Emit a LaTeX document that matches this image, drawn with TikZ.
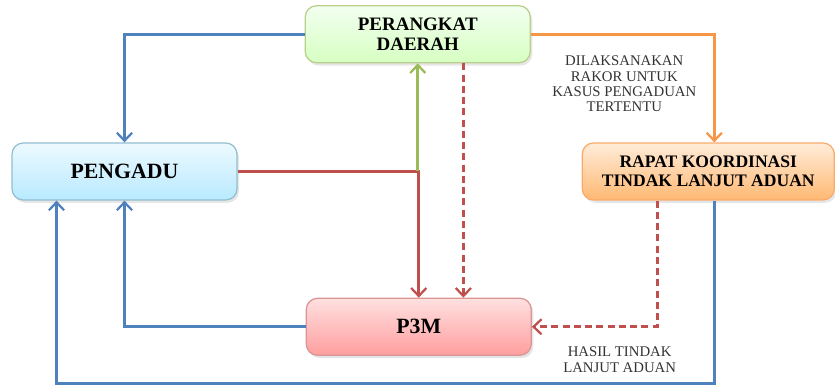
\documentclass[tikz,border=0pt]{standalone}
\usepackage{fontspec}
\setmainfont{Liberation Serif}
\usetikzlibrary{arrows.meta,positioning,shadows}

\definecolor{flowblue}{HTML}{4F81BD}
\definecolor{floworange}{HTML}{F79646}
\definecolor{flowred}{HTML}{C0504D}
\definecolor{flowgreen}{HTML}{9BBB59}

\begin{document}
\begin{tikzpicture}[
  box/.style={rectangle, draw, rounded corners=8pt, minimum width=5.625cm,
              minimum height=1.425cm, align=center, line width=0.9pt,
              font=\fontsize{13.5}{14.5}\selectfont\bfseries,
              drop shadow={opacity=0.2, shadow xshift=0.5mm, shadow yshift=-0.7mm}},
  link/.style={-{Straight Barb[length=2mm, width=3.8mm, line width=1.6pt]}, line width=1.9pt},
  dashline/.style={dash pattern=on 5pt off 3pt},
  note/.style={align=center, font=\fontsize{10.5}{11}\selectfont, text=black!80},
]
  \useasboundingbox (0,0) rectangle (20.875,-9.625);

  % -- Boxes --
  \node[box, top color=cyan!70!blue!7!white, bottom color=cyan!70!blue!28!white, draw=cyan!45!gray!70,
        font=\fontsize{15.5}{16}\selectfont\bfseries] (pengadu) at (3.1125,-4.2875) {PENGADU};
  \node[box, above right=1.975cm and 1.675cm of pengadu, top color=lime!18!green!6!white,
        bottom color=lime!45!green!24!white, draw=flowgreen!70] (perangkat) {PERANGKAT\\DAERAH};
  \node[box, right=8.6cm of pengadu, minimum width=6.3cm, top color=orange!15,
        bottom color=orange!55, draw=floworange!80,
        font=\fontsize{12.5}{13.5}\selectfont\bfseries] (rapat) {RAPAT KOORDINASI\\TINDAK LANJUT ADUAN};
  \node[box, below right=2.425cm and 1.7cm of pengadu, top color=red!12, bottom color=red!38,
        draw=flowred!60, font=\fontsize{15.5}{16}\selectfont\bfseries] (p3m) {P3M};

  % -- Connectors --
  \draw[link, flowblue] (perangkat.west) -| (pengadu.north);
  \draw[link, floworange] (perangkat.east) -| node[note, pos=0.73, left=0.3cm]
    {DILAKSANAKAN\\RAKOR UNTUK\\KASUS PENGADUAN\\TERTENTU} ([xshift=0.15cm]rapat.north);
  \draw[link, flowred] (pengadu.east) -| (p3m.north);
  \draw[link, flowgreen] (pengadu.east -| perangkat.south) -- (perangkat.south);
  \draw[link, flowred, dashline] ([xshift=1.14cm]perangkat.south)
    -- ([xshift=1.14cm]perangkat.south |- p3m.north);
  \draw[link, flowred, dashline] ([xshift=-1.275cm]rapat.south) |- node[note, pos=0.65, below=0.35cm]
    {HASIL TINDAK\\LANJUT ADUAN} (p3m.east);
  \draw[link, flowblue] (p3m.west) -| (pengadu.south);
  \draw[link, flowblue] ([xshift=0.15cm]rapat.south) -- ++(0,-4.575) -| ([xshift=-1.7cm]pengadu.south);

\end{tikzpicture}
\end{document}
